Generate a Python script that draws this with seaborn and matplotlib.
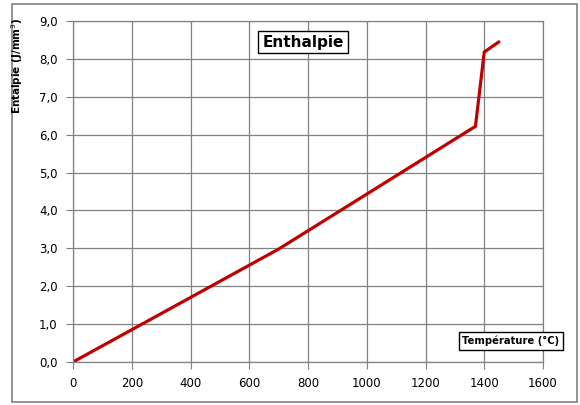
import numpy as np
import pandas as pd
import seaborn as sns
from matplotlib import pyplot as plt
from matplotlib.patches import Rectangle
from matplotlib.ticker import FuncFormatter

# Données
temperature = [0, 700, 1370, 1400, 1450]
enthalpie = [0.0, 2.98, 6.22, 8.18, 8.45]

df = pd.DataFrame({'T': temperature, 'H': enthalpie})

sns.set_style('white')
plt.rcParams['font.family'] = ['DejaVu Sans']
plt.rcParams['text.color'] = 'black'

fig = plt.figure(figsize=(5.8, 4.05), dpi=100)
ax = fig.add_axes([73 / 580, 1 - 362 / 405, 470 / 580, 341 / 405])

# cadre gris autour du graphique
fig.patches.append(Rectangle((12 / 580, 3 / 405), 565 / 580, 398 / 405, transform=fig.transFigure,
                             fill=False, edgecolor='#808080', linewidth=1.2))

sns.lineplot(data=df, x='T', y='H', ax=ax, color='#C00000', linewidth=2.3, sort=False)

ax.set_xlim(0, 1600)
ax.set_ylim(0, 9)
ax.set_xticks(np.arange(0, 1601, 200))
ax.set_yticks(np.arange(0, 9.1, 1))
ax.yaxis.set_major_formatter(FuncFormatter(lambda v, p: f'{v:.1f}'.replace('.', ',')))
ax.grid(True, color='#808080', linewidth=0.9)
ax.set_axisbelow(True)
for s in ['top', 'right', 'left', 'bottom']:
    ax.spines[s].set_color('#808080')
    ax.spines[s].set_linewidth(0.9)
ax.tick_params(axis='both', which='both', direction='out', length=5, color='#808080',
               labelsize=8.5, labelcolor='black', bottom=True, left=True, pad=6)
ax.set_xlabel('')
ax.set_ylabel('')

fig.text(17 / 580, 1 - 66 / 405, 'Entalpie (J/mm$^3$)', rotation=90, ha='center', va='center',
         fontsize=7.5, fontweight='bold')
fig.text(303 / 580, 1 - 42 / 405, 'Enthalpie', ha='center', va='center', fontsize=11, fontweight='bold',
         bbox=dict(boxstyle='square,pad=0.25', facecolor='white', edgecolor='black', linewidth=1))
fig.text(511 / 580, 1 - 341 / 405, 'Température (°C)', ha='center', va='center', fontsize=7.2,
         fontweight='bold',
         bbox=dict(boxstyle='square,pad=0.35', facecolor='white', edgecolor='black', linewidth=1))

fig.savefig('out.png', dpi=100)
